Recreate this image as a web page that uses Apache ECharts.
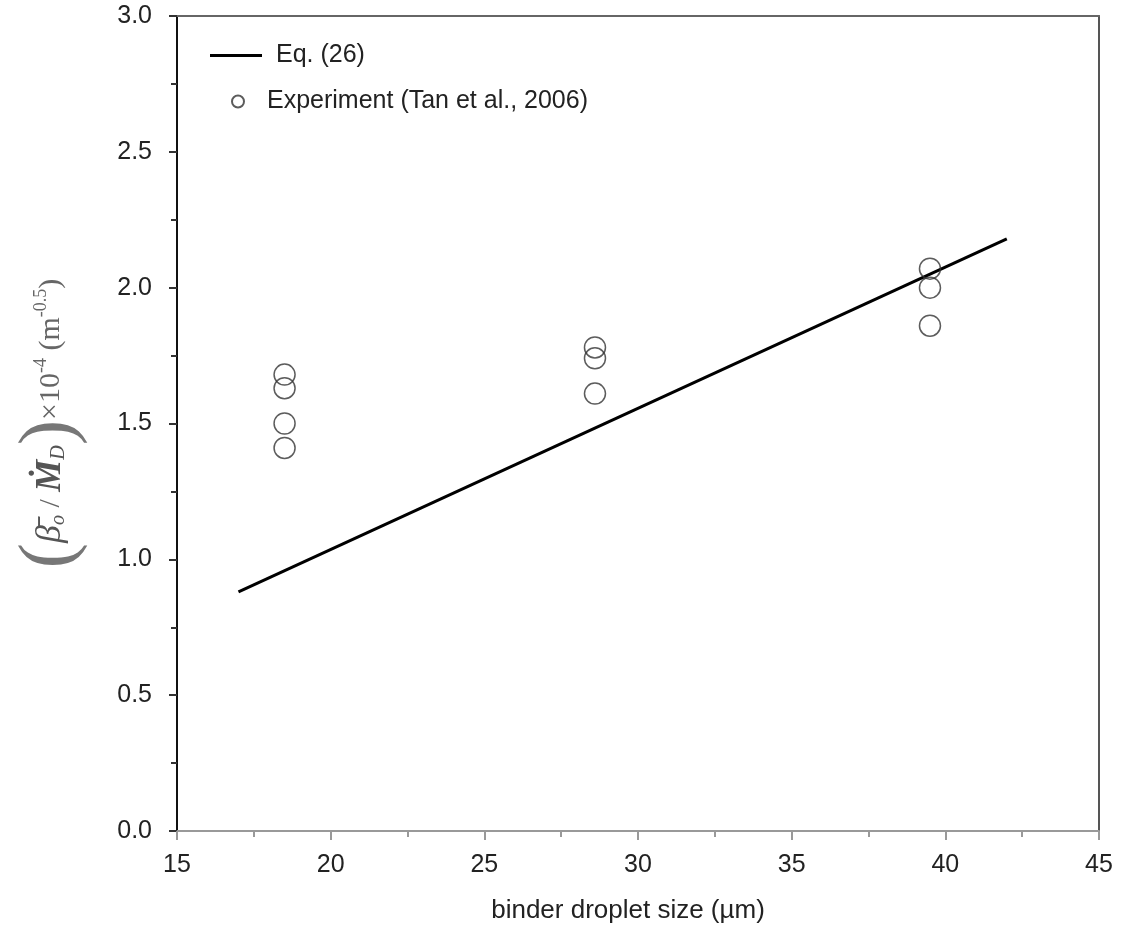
<!DOCTYPE html>
<html>
<head>
<meta charset="utf-8">
<script src="https://cdn.jsdelivr.net/npm/echarts@6/dist/echarts.min.js"></script>
<style>html,body{margin:0;padding:0;background:#fff}#c{width:1123px;height:930px}</style>
</head>
<body>
<div id="c"></div>
<script>
// Data
const lineName = 'Eq. (26)';
const expName = 'Experiment (Tan et al., 2006)';
const lineX = [17, 42];
const lineY = [0.88, 2.18];
const expX = [18.5, 18.5, 18.5, 18.5, 28.6, 28.6, 28.6, 39.5, 39.5, 39.5];
const expY = [1.68, 1.63, 1.50, 1.41, 1.78, 1.74, 1.61, 2.07, 2.00, 1.86];
const xTicks = { min: 15, max: 45, interval: 5 };
const yTicks = { min: 0, max: 3, interval: 0.5 };
const xTitle = 'binder droplet size (\u00b5m)';

const sans = 'Liberation Sans, Arial, sans-serif';
const serif = 'Liberation Serif, Times New Roman, serif';
const chart = echarts.init(document.getElementById('c'), null, { renderer: 'canvas' });

const yName = '{p|(}{b|\u03b2\u0304}{sub|o}{t| / }{m|\u1e40}{sub|D}{p|)}{t|\u00d710}{sup|-4}{t| (m}{sup|-0.5}{t|)}';

chart.setOption({
  animation: false,
  backgroundColor: '#fff',
  grid: { left: 177, right: 24, top: 16, bottom: 99, containLabel: false },
  legend: [
    {
      data: [{ name: lineName, icon: 'rect' }],
      left: 205, top: 38, itemWidth: 52, itemHeight: 3, orient: 'vertical',
      textStyle: { fontFamily: sans, fontSize: 25, color: '#222', padding: [0, 0, 0, 9] },
      selectedMode: false
    },
    {
      data: [{ name: expName, icon: 'circle' }],
      left: 226, top: 84, itemWidth: 12, itemHeight: 12, orient: 'vertical',
      textStyle: { fontFamily: sans, fontSize: 25, color: '#222', padding: [0, 0, 0, 18] },
      selectedMode: false
    }
  ],
  xAxis: [
    {
      type: 'value', min: xTicks.min, max: xTicks.max, interval: xTicks.interval,
      position: 'bottom',
      name: xTitle, nameLocation: 'middle', nameGap: 67,
      nameTextStyle: { fontFamily: sans, fontSize: 26, color: '#222', padding: [0, 20, 0, 0] },
      axisLine: { show: true, onZero: false, lineStyle: { color: '#999', width: 2 } },
      axisTick: { show: true, inside: false, length: 9, lineStyle: { color: '#999', width: 2 } },
      minorTick: { show: true, splitNumber: 2, length: 6, lineStyle: { color: '#999', width: 2 } },
      axisLabel: { margin: 22, fontFamily: sans, fontSize: 25, color: '#222' },
      splitLine: { show: false }
    },
    {
      type: 'value', min: xTicks.min, max: xTicks.max, position: 'top',
      axisLine: { show: true, onZero: false, lineStyle: { color: '#666', width: 2 } },
      axisTick: { show: false }, axisLabel: { show: false }, splitLine: { show: false }
    }
  ],
  yAxis: [
    {
      type: 'value', min: yTicks.min, max: yTicks.max, interval: yTicks.interval,
      position: 'left',
      name: yName, nameLocation: 'middle', nameGap: 88, nameRotate: 90,
      nameTextStyle: {
        color: '#666', fontFamily: serif, fontSize: 30,
        rich: {
          p: { fontFamily: serif, fontSize: 76, color: '#777' },
          b: { fontFamily: serif, fontSize: 36, fontStyle: 'italic', color: '#555' },
          sub: { fontFamily: serif, fontSize: 20, fontStyle: 'italic', color: '#555', padding: [16, 0, 0, 0] },
          m: { fontFamily: serif, fontSize: 36, fontStyle: 'italic', fontWeight: 'bold', color: '#555' },
          t: { fontFamily: serif, fontSize: 30, color: '#666' },
          sup: { fontFamily: serif, fontSize: 18, color: '#666', padding: [0, 0, 20, 0] }
        }
      },
      axisLine: { show: true, onZero: false, lineStyle: { color: '#111', width: 2 } },
      axisTick: { show: true, inside: false, length: 8, lineStyle: { color: '#333', width: 2 } },
      minorTick: { show: true, splitNumber: 2, length: 6, lineStyle: { color: '#333', width: 2 } },
      axisLabel: { margin: 25, fontFamily: sans, fontSize: 25, color: '#222',
        formatter: v => v.toFixed(1) },
      splitLine: { show: false }
    },
    {
      type: 'value', min: yTicks.min, max: yTicks.max, position: 'right',
      axisLine: { show: true, onZero: false, lineStyle: { color: '#555', width: 2 } },
      axisTick: { show: false }, axisLabel: { show: false }, splitLine: { show: false }
    }
  ],
  series: [
    {
      name: lineName, type: 'line', xAxisIndex: 0, yAxisIndex: 0,
      data: lineX.map((x, i) => [x, lineY[i]]),
      symbol: 'none', lineStyle: { color: '#000', width: 3 }, itemStyle: { color: '#000' },
      z: 3
    },
    {
      name: expName, type: 'scatter', xAxisIndex: 0, yAxisIndex: 0,
      data: expX.map((x, i) => [x, expY[i]]),
      symbol: 'circle', symbolSize: 21,
      itemStyle: { color: 'rgba(255,255,255,0)', borderColor: '#333', borderWidth: 1.5 },
      z: 4
    }
  ]
});
</script>
</body>
</html>
